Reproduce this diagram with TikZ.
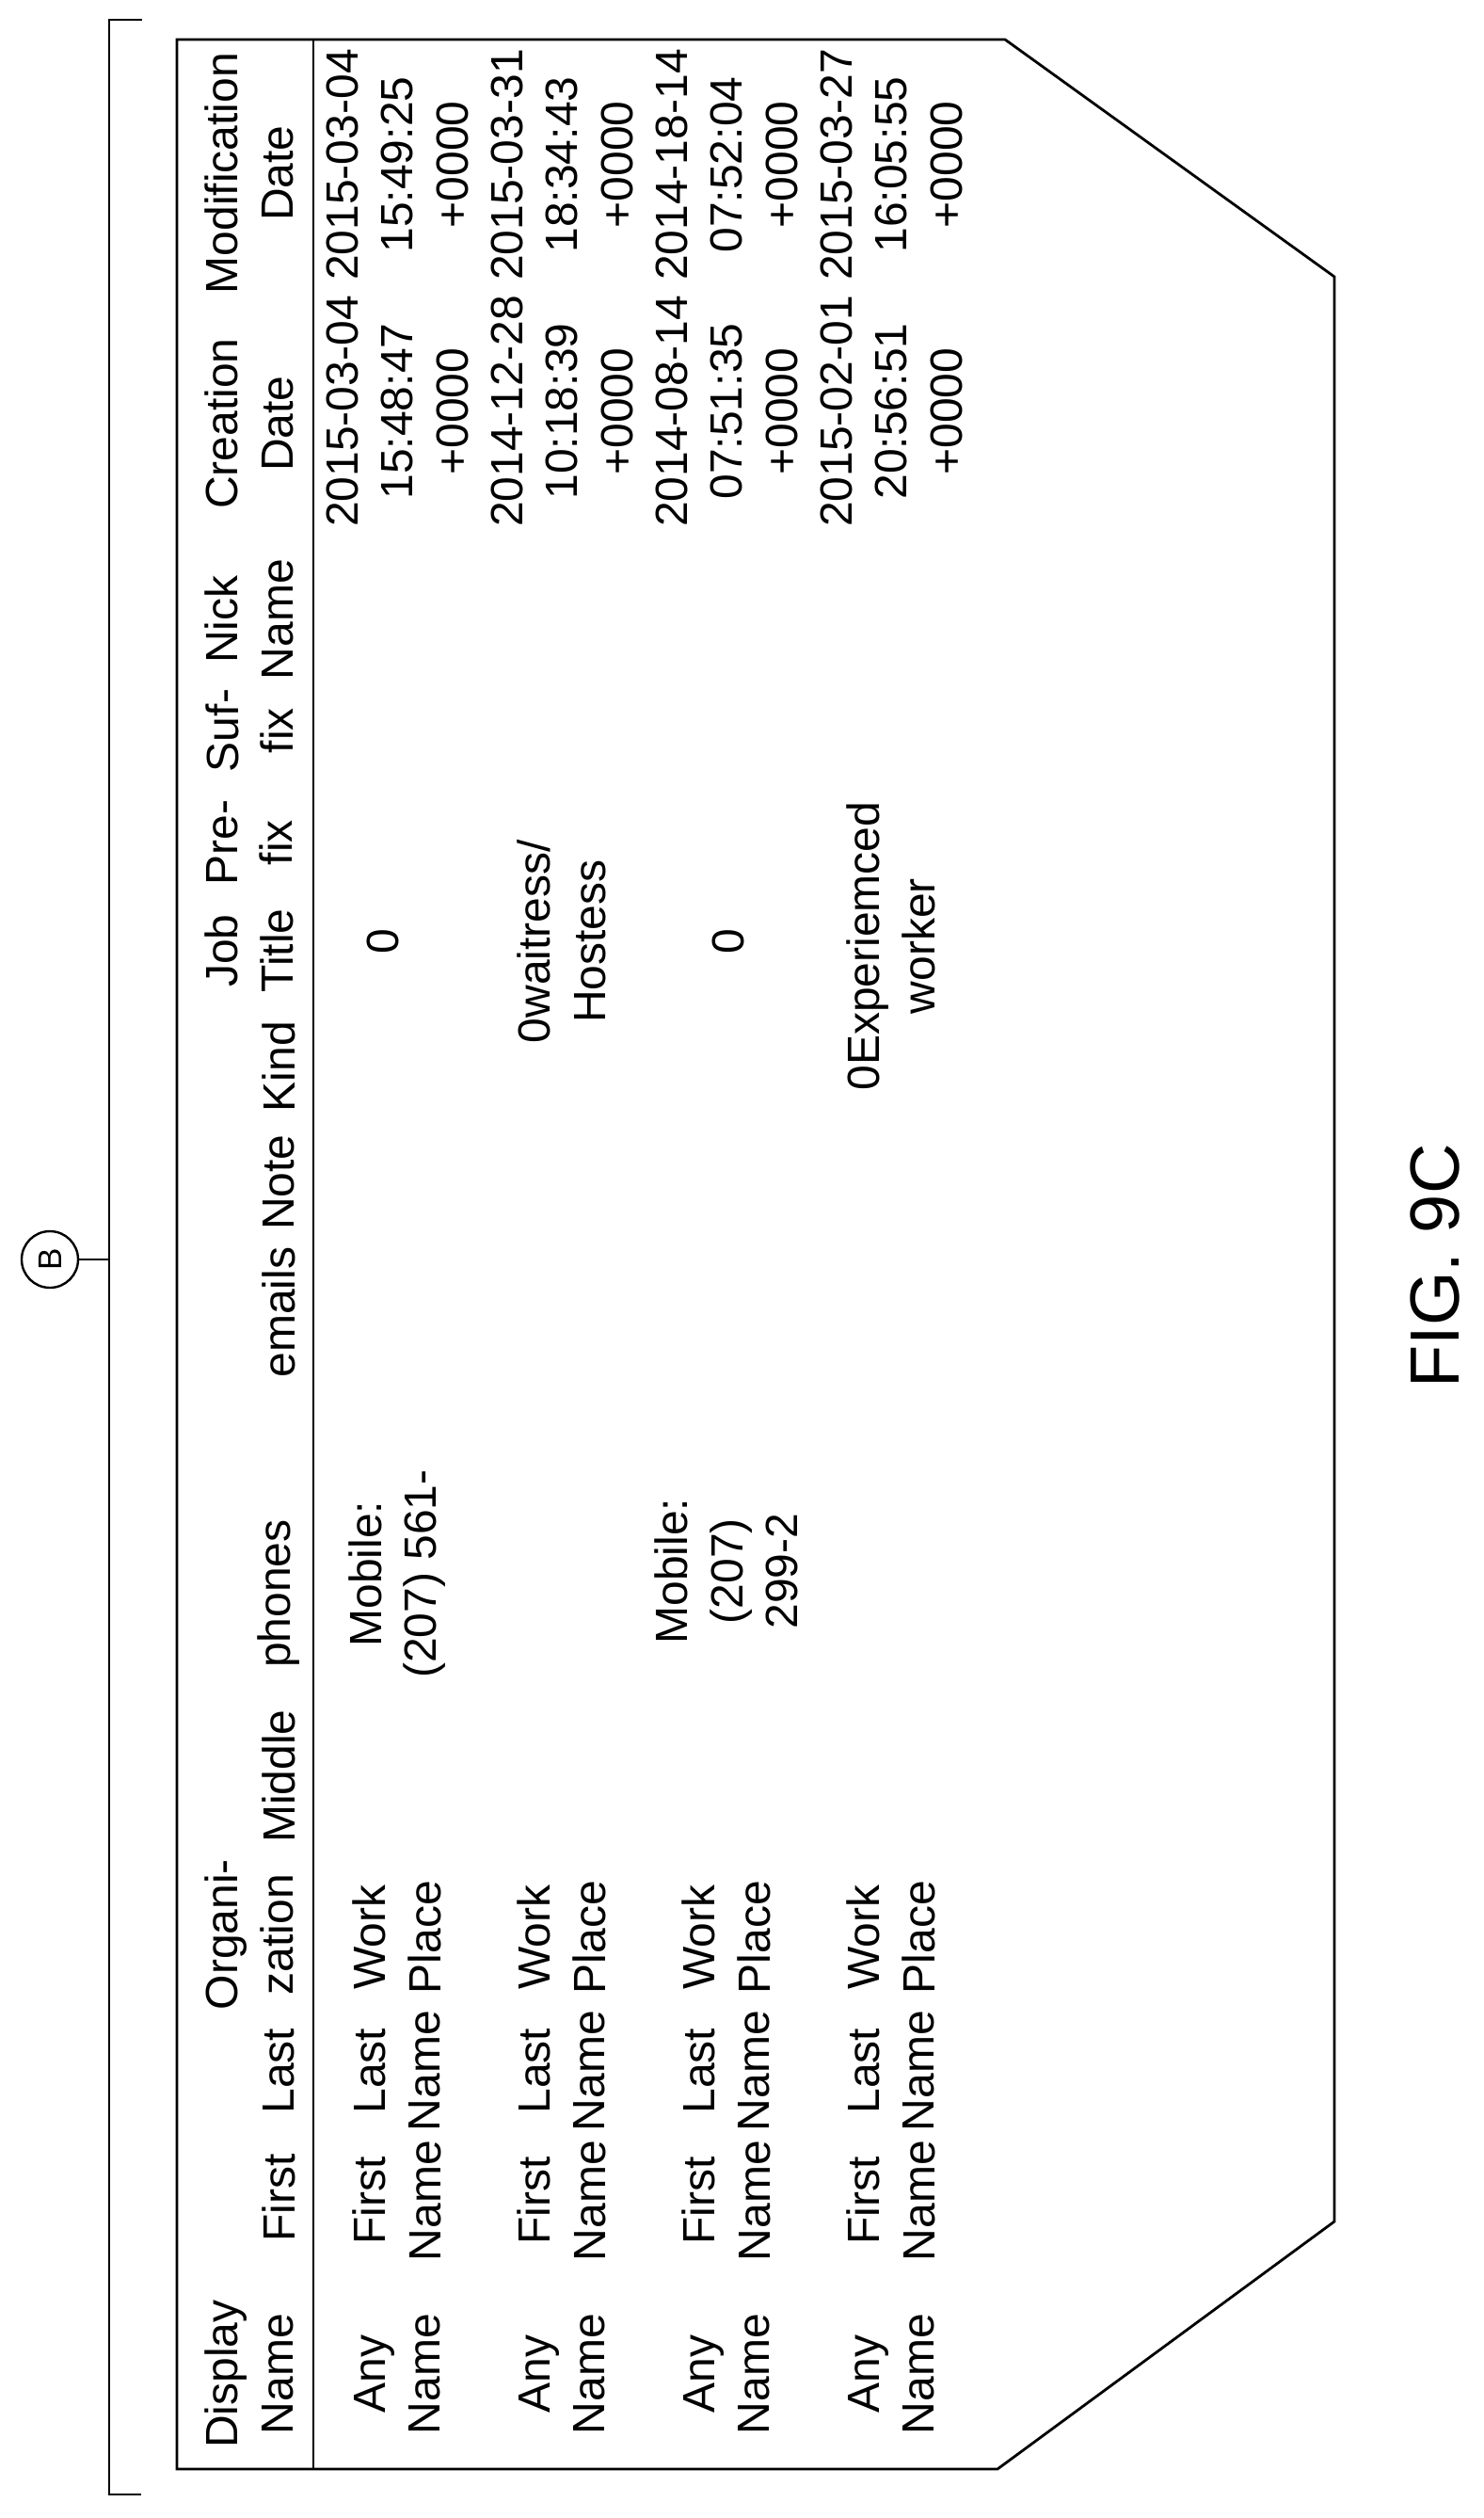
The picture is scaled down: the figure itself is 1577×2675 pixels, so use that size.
\documentclass[tikz,border=0pt]{standalone}
\usepackage{fontspec}
\setmainfont{Liberation Sans}
\begin{document}
\begin{tikzpicture}[x=0.5pt,y=-0.5pt,
  txt/.style={rotate=90,align=center,inner sep=0pt,font=\fontsize{24}{29.25}\selectfont},
  frame/.style={line width=1.4pt},
  thin/.style={line width=1.2pt}]
\useasboundingbox (0,0) rectangle (1577,2675);
% bracket
\draw[thin] (151,21) -- (116,21) -- (116,2650) -- (150,2650);
\coordinate (bj) at (116,1338);
\node[circle,draw,thin,minimum size=30pt,inner sep=0pt,rotate=90,font=\fontsize{17.5}{20}\selectfont] (B) at (53,1338) {B};
\draw[thin] (B) -- (bj);
% table outline
\draw[frame] (188,42) -- (1068,42) -- (1418,294) -- (1418,2360) -- (1060,2623) -- (188,2623) -- cycle;
\draw[frame] (333,42) -- (333,2623);
% headers
\foreach \n/\y/\t in {h1/2522/{Display\\Name}, h4/2055/{Organi-\\zation}, h10/1010/{Job\\Title},
  h11/895/{Pre-\\fix}, h12/776/{Suf-\\fix}, h13/658/{Nick\\Name}, h14/450/{Creation\\Date}, h15/184/{Modification\\Date}}
  \node[txt] (\n) at (265,\y) {\t};
\foreach \n/\y/\t in {h2/2335/First, h3/2200/Last, h5/1887/Middle, h6/1693/phones, h7/1394/emails, h8/1256/Note, h9/1133/Kind}
  \node[txt] (\n) at (296,\y) {\t};
% name columns
\foreach \r/\x in {1/422,2/597,3/772,4/947}{
  \node[txt] (dn\r) at (\x,2522) {Any\\Name};
  \node[txt] (fn\r) at (\x,2338) {First\\Name};
  \node[txt] (ln\r) at (\x,2200) {Last\\Name};
  \node[txt] (org\r) at (\x,2058) {Work\\Place};
}
% phones
\node[txt] (ph1) at (422,1672) {Mobile:\\(207) 561-};
\node[txt] (ph3) at (772,1669) {Mobile:\\(207)\\299-2};
% job title
\node[txt] (jt1) at (407,1000) {0};
\node[txt] (jt2) at (597,1000) {0waitress/\\Hostess};
\node[txt] (jt3) at (774,1000) {0};
\node[txt] (jt4) at (947,1005) {0Experiemced\\worker};
% dates
\node[txt] (cd1) at (422,437) {2015-03-04\\15:48:47\\+0000};
\node[txt] (md1) at (422,175) {2015-03-04\\15:49:25\\+0000};
\node[txt] (cd2) at (597,437) {2014-12-28\\10:18:39\\+0000};
\node[txt] (md2) at (597,175) {2015-03-31\\18:34:43\\+0000};
\node[txt] (cd3) at (772,437) {2014-08-14\\07:51:35\\+0000};
\node[txt] (md3) at (772,175) {2014-18-14\\07:52:04\\+0000};
\node[txt] (cd4) at (947,437) {2015-02-01\\20:56:51\\+0000};
\node[txt] (md4) at (947,175) {2015-03-27\\16:05:55\\+0000};
% caption
\node[rotate=90,inner sep=0pt,font=\fontsize{37}{40}\selectfont] (fig) at (1525,1345) {FIG. 9C};
\end{tikzpicture}
\end{document}
